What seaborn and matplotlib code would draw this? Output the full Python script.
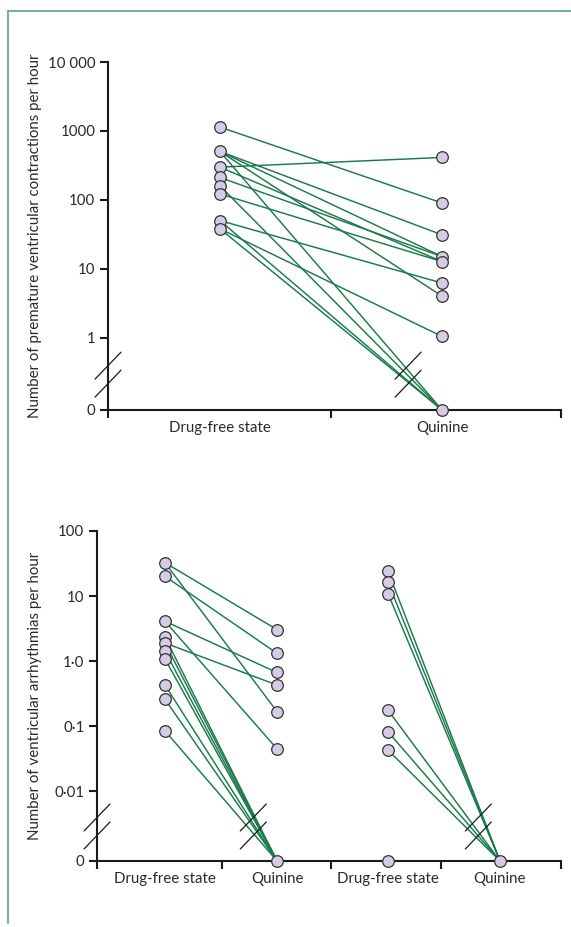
import numpy as np
import pandas as pd
import matplotlib
matplotlib.use("Agg")
import matplotlib.pyplot as plt
from matplotlib.lines import Line2D
import seaborn as sns

# top panel: premature ventricular contractions per hour, one entry per patient (0 = none)
pvc_drugfree = [1137, 504, 504, 504, 504, 298, 298, 211, 160, 122, 50, 50, 38, 38]
pvc_quinine = [90, 31, 15, 4.0, 0, 412, 12.7, 15, 0, 12.7, 6.2, 0, 1.04, 0]

# bottom panel: ventricular arrhythmias per hour, two groups of patients
va1_drugfree = [32.6, 32.6, 20.1, 4.1, 4.1, 2.35, 1.9, 1.9, 1.42, 1.08, 0.43, 0.26, 0.085]
va1_quinine = [3.05, 0.168, 1.32, 0.67, 0.045, 0, 0.43, 0, 0, 0, 0, 0, 0]
va2_drugfree = [24, 16.3, 10.9, 0.176, 0.082, 0.043, 0]
va2_quinine = [0, 0, 0, 0, 0, 0, 0]

categories = ["Drug-free state", "Quinine"]
top_ticks = ["0", "1", "10", "100", "1000", "10 000"]
bottom_ticks = ["0", "0·01", "0·1", "1·0", "10", "100"]

GREEN = "#1b7a4b"
FACE = "#d5cbe4"
EDGE = "#333333"
TEXT = "#2a2a2a"
FRAME = "#5aa47a"

sns.set_theme(style="ticks")
plt.rcParams["font.family"] = ["Lato", "DejaVu Sans"]
plt.rcParams["axes.linewidth"] = 1.5
plt.rcParams["xtick.major.width"] = 1.5
plt.rcParams["ytick.major.width"] = 1.5


def pos(v, zero):
    return np.log10(v) if v > 0 else zero


def long_frame(pre, post, xpre, xpost, zero, start=0):
    rows = []
    for i, (a, b) in enumerate(zip(pre, post)):
        rows.append({"pid": start + i, "x": xpre, "y": pos(a, zero)})
        rows.append({"pid": start + i, "x": xpost, "y": pos(b, zero)})
    return pd.DataFrame(rows)


def draw_pairs(ax, df):
    sns.lineplot(data=df, x="x", y="y", units="pid", estimator=None, sort=False,
                 color=GREEN, lw=1.05, ax=ax, legend=False)
    pts = df.drop_duplicates(["x", "y"])
    sns.scatterplot(data=pts, x="x", y="y", s=70, color=FACE, edgecolor=EDGE,
                    linewidth=0.9, zorder=5, clip_on=False, ax=ax, legend=False)


def draw_break(ax, x, y):
    # two short parallel slashes (axis break)
    cx, cy = ax.transData.transform((x, y))
    inv = ax.transData.inverted()
    for off in (9, -9):
        p = inv.transform([(cx - 13, cy + off - 13.5), (cx + 13, cy + off + 13.5)])
        ax.plot(p[:, 0], p[:, 1], color="k", lw=0.9, clip_on=False, zorder=6)


def style_axis(ax, xticks, xcats, yticks, ylabels, ylabel, labx):
    sns.despine(ax=ax)
    ax.set_xticks(xticks)
    ax.set_xticklabels([""] * len(xticks))
    ax.set_xticks(xcats, minor=True)
    ax.set_xticklabels(categories * (len(xcats) // 2), minor=True, fontsize=10.8, color=TEXT)
    ax.tick_params(axis="x", which="major", direction="out", length=6, color="k")
    ax.tick_params(axis="x", which="minor", length=0, pad=8)
    ax.set_yticks(yticks)
    ax.set_yticklabels(ylabels, fontsize=10.8, color=TEXT)
    ax.tick_params(axis="y", direction="out", length=6, pad=3, color="k")
    ax.set_xlabel("")
    ax.set_ylabel(ylabel, fontsize=10.8, color=TEXT, va="center")
    ax.yaxis.set_label_coords(labx, 0.5)
    for s in ax.spines.values():
        s.set_color("k")


fig = plt.figure(figsize=(5.71, 9.27), dpi=100)

# ---- top panel
ZT = -1.05
ax1 = fig.add_axes([108 / 571, 1 - 410 / 927, 453 / 571, 348 / 927])
ax1.set_xlim(0, 2)
ax1.set_ylim(ZT, 4)
xc1 = [0.494, 1.475]
draw_pairs(ax1, long_frame(pvc_drugfree, pvc_quinine, xc1[0], xc1[1], ZT))
style_axis(ax1, [0, 0.985, 2], xc1, [ZT, 0, 1, 2, 3, 4], top_ticks,
           "Number of premature ventricular contractions per hour", -0.161)
draw_break(ax1, 0, -0.537)
draw_break(ax1, 1.325, -0.537)

# ---- bottom panel
ZB = -3.07
ax2 = fig.add_axes([97 / 571, 1 - 861 / 927, 464 / 571, 330 / 927])
ax2.set_xlim(0, 4)
ax2.set_ylim(ZB, 2)
xc2 = [0.586, 1.552, 2.509, 3.474]
df2 = pd.concat([
    long_frame(va1_drugfree, va1_quinine, xc2[0], xc2[1], ZB),
    long_frame(va2_drugfree, va2_quinine, xc2[2], xc2[3], ZB, start=100),
])
draw_pairs(ax2, df2)
style_axis(ax2, [0, 1.078, 2.017, 2.966, 4], xc2, [ZB, -2, -1, 0, 1, 2], bottom_ticks,
           "Number of ventricular arrhythmias per hour", -0.134)
draw_break(ax2, 0, -2.54)
draw_break(ax2, 1.347, -2.54)
draw_break(ax2, 3.287, -2.54)

# green frame (top and left rule)
fig.add_artist(Line2D([8 / 571, 1], [1 - 11 / 927] * 2, transform=fig.transFigure, color=FRAME, lw=1.2))
fig.add_artist(Line2D([8 / 571] * 2, [1 - 11 / 927, 1 - 923 / 927], transform=fig.transFigure, color=FRAME, lw=1.2))

fig.savefig("out.png", dpi=100)
